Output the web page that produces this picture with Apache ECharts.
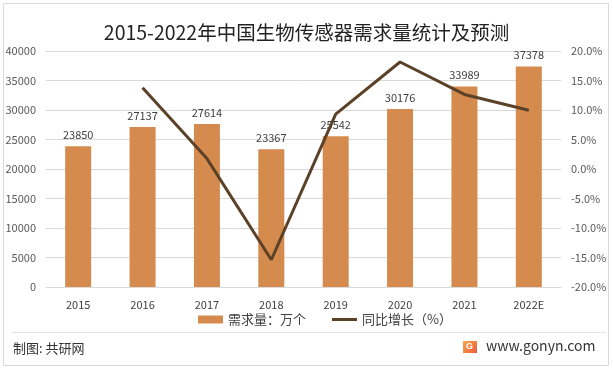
<!DOCTYPE html>
<html><head><meta charset="utf-8">
<script src="https://cdn.jsdelivr.net/npm/echarts@6/dist/echarts.min.js"></script>
<style>html,body{margin:0;padding:0;background:#fff}#c{width:613px;height:369px}</style>
</head><body><div id="c"></div>
<script>
const categories = ['2015','2016','2017','2018','2019','2020','2021','2022E'];
const demand = [23850,27137,27614,23367,25542,30176,33989,37378];
const growth = [null,13.78,1.76,-15.38,9.31,18.14,12.64,9.97];
const title = '2015-2022年中国生物传感器需求量统计及预测';
const barName = '需求量：万个';
const lineName = '同比增长（%）';

const chart = echarts.init(document.getElementById('c'));
const font = '"Noto Sans CJK SC", "Noto Sans", sans-serif';
chart.setOption({
  animation:false,
  title:{text:title,left:'center',top:18,textStyle:{fontFamily:font,fontSize:19.5,fontWeight:'normal',color:'#222'}},
  grid:{left:46,right:52,top:51,bottom:82},
  legend:{bottom:38,left:193,itemGap:26,itemWidth:25,itemHeight:8,textStyle:{fontFamily:font,fontSize:13,color:'#404040'},
    data:[{name:barName,icon:'rect'},{name:lineName,icon:'path://M0,0H25V3H0Z'}]},
  xAxis:{type:'category',data:categories,axisLine:{lineStyle:{color:'#D9D9D9'}},axisTick:{show:false},
    axisLabel:{color:'#404040',fontSize:11,fontFamily:font,margin:12}},
  yAxis:[
    {type:'value',min:0,max:40000,interval:5000,axisLine:{show:false},axisTick:{show:false},
     axisLabel:{color:'#595959',fontSize:11,fontFamily:font,margin:10,formatter:v=>String(v)},splitLine:{lineStyle:{color:'#D9D9D9'}}},
    {type:'value',min:-20,max:20,interval:5,axisLine:{show:false},axisTick:{show:false},
     axisLabel:{color:'#595959',fontSize:11,fontFamily:font,margin:10,formatter:v=>v.toFixed(1)+'%'},splitLine:{show:false}}
  ],
  series:[
    {name:barName,type:'bar',data:demand,barWidth:26,itemStyle:{color:'#D48B4D'},
     label:{show:true,position:'top',distance:6,color:'#404040',fontSize:11,fontFamily:font}},
    {name:lineName,type:'line',yAxisIndex:1,data:growth,symbol:'none',lineStyle:{color:'#5C4129',width:3},itemStyle:{color:'#5C4129'},z:5}
  ],
  graphic:[
    {type:'rect',shape:{x:3.5,y:3.5,width:605,height:362},style:{fill:'none',stroke:'#D9D9D9',lineWidth:1},silent:true},
    {type:'line',shape:{x1:12,y1:332.5,x2:606,y2:332.5},style:{stroke:'#E6E6E6',lineWidth:1}},
    {type:'text',left:13,top:342,style:{text:'制图: 共研网',font:'13px '+font,fill:'#333'}},
    {type:'rect',shape:{x:463,y:341,width:14,height:12},style:{fill:new echarts.graphic.LinearGradient(0,0,1,1,[{offset:0,color:'#F7A84A'},{offset:1,color:'#EE5A3A'}])}},
    {type:'text',left:466,top:342,style:{text:'G',font:'bold 9px sans-serif',fill:'#fff'}},
    {type:'text',left:486,top:339,style:{text:'www.gonyn.com',font:'14px '+font,fill:'#333'}}
  ]
});
</script></body></html>
